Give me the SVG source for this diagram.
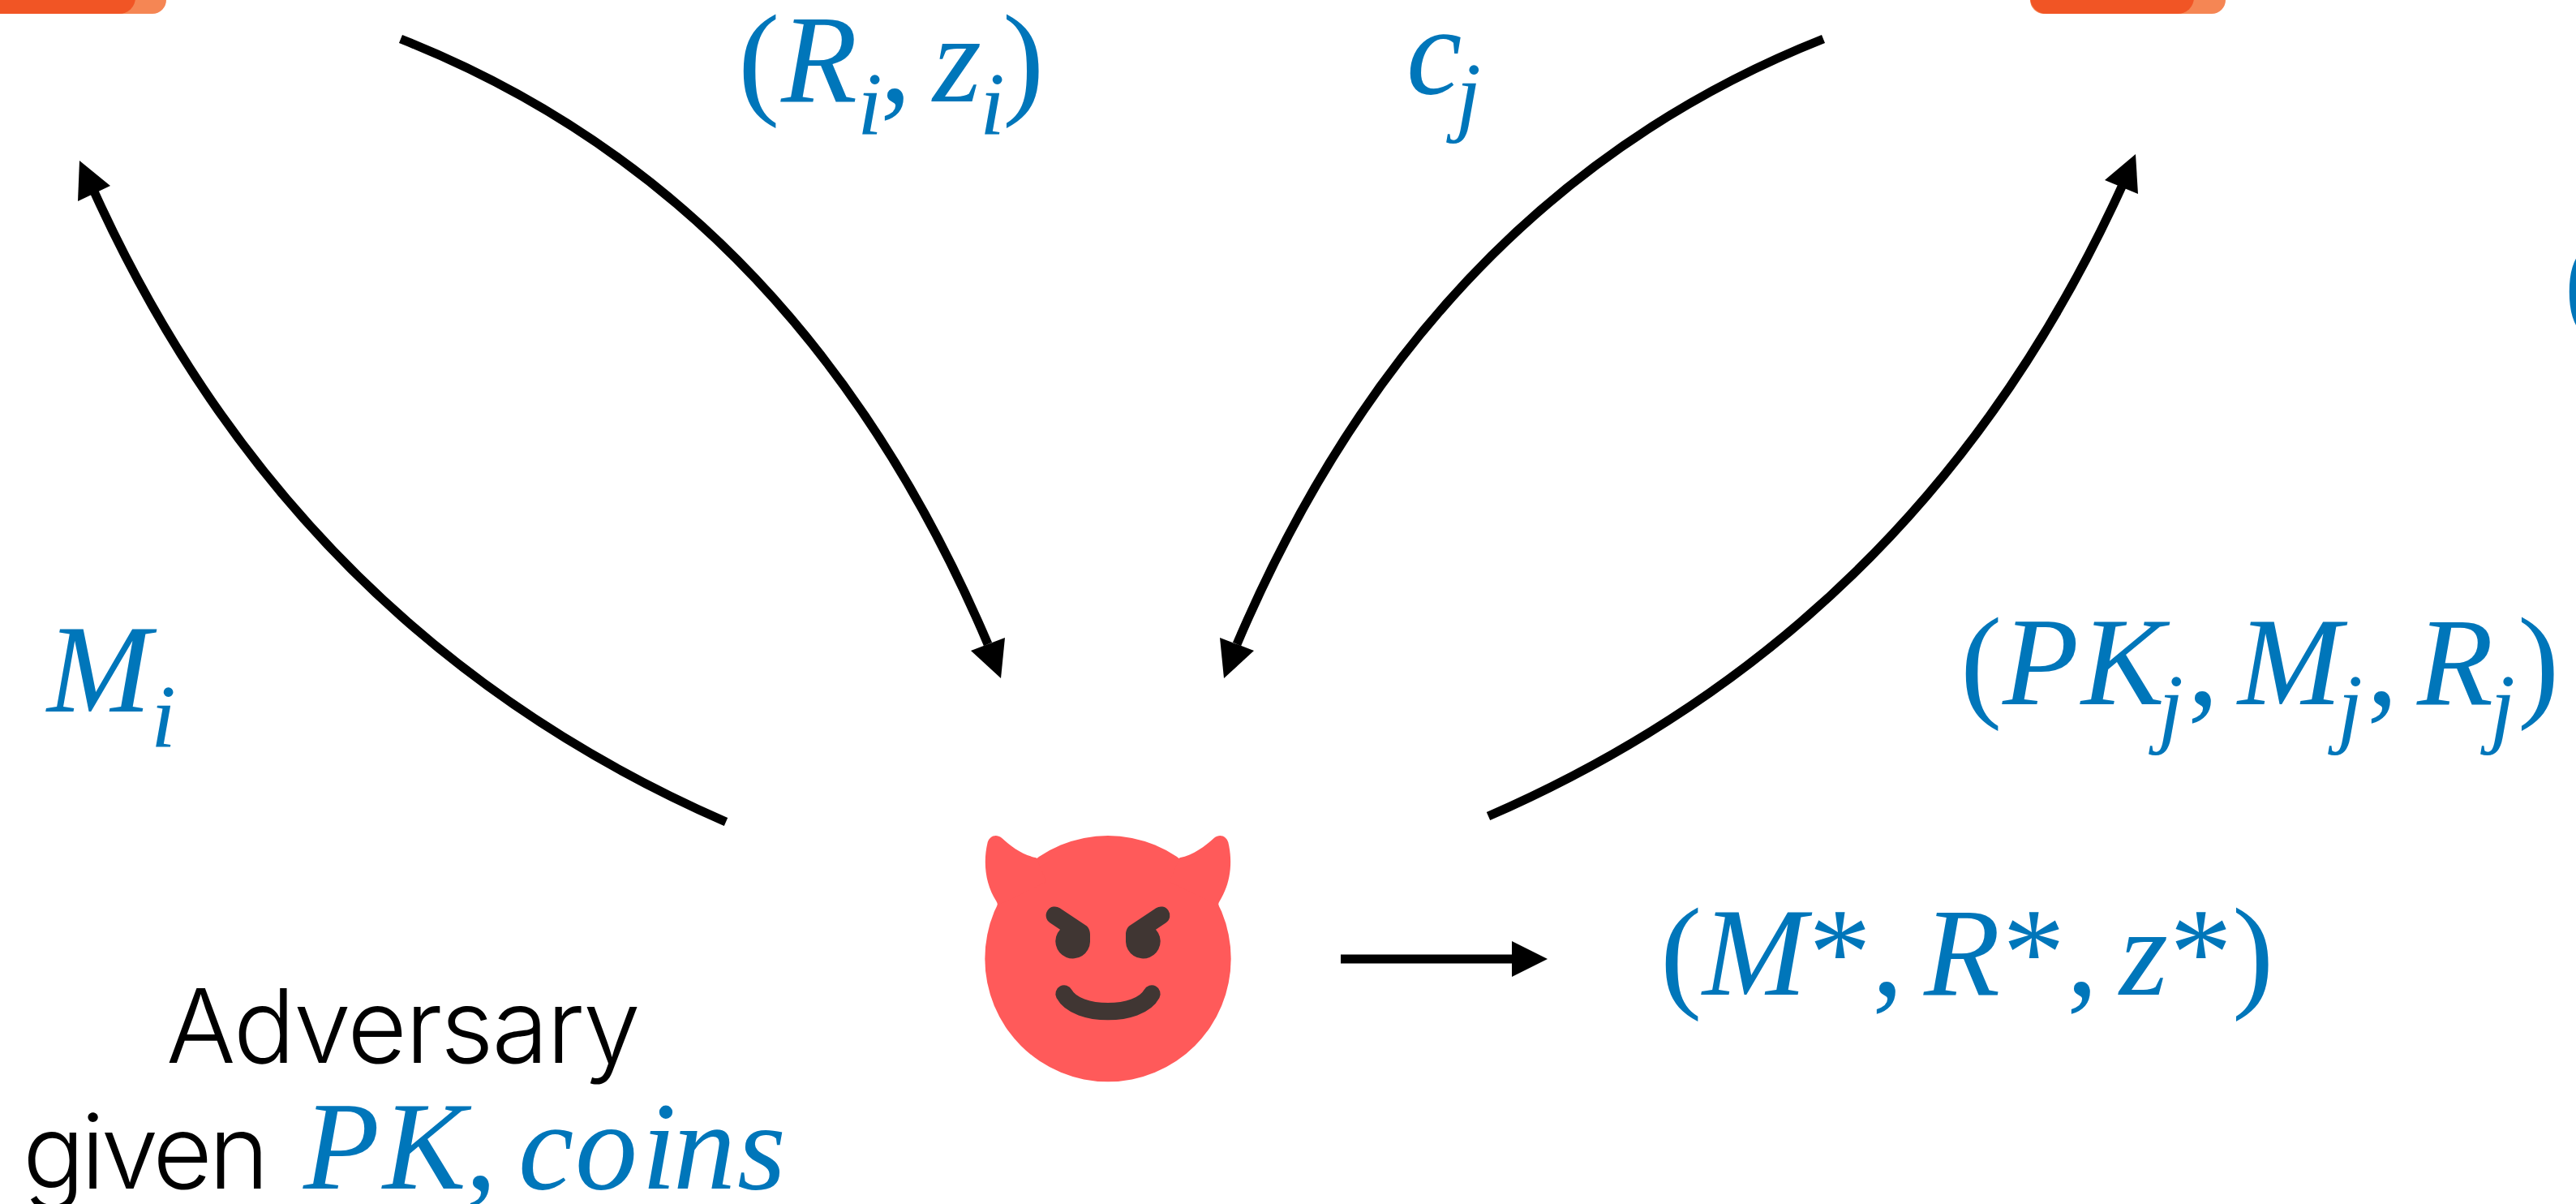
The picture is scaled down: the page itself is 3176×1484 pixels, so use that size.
<svg xmlns="http://www.w3.org/2000/svg" width="3176" height="1484" viewBox="0 0 3176 1484">
<style>
.m{font-family:"Liberation Serif","Times New Roman",serif;font-style:italic;font-size:154px;fill:#0076BA}
.u{font-style:normal}
.s{font-size:111px}
.t{font-family:Inter,"Liberation Sans",sans-serif;font-weight:300;font-size:127px;fill:#000}
.c{fill:none;stroke:#000;stroke-width:11}
.h{fill:#000}
.d{fill:#FF5A5A}
.k{fill:#403633}
</style>
<rect width="3176" height="1484" fill="#fff"/>
<g id="signer-left">
<rect x="-60" y="-40" width="265" height="57" rx="17" fill="#F58654"/>
<rect x="-60" y="-40" width="227" height="57" rx="20" fill="#F15525"/>
</g>
<g id="signer-right">
<rect x="2503" y="-40" width="241" height="57" rx="17" fill="#F58654"/>
<rect x="2503" y="-40" width="202" height="57" rx="20" fill="#F15525"/>
</g>
<g id="connectors">
<path class="c" d="M895 1013Q363 781 116 236"/><polygon class="h" points="98,198 96,248 136,229"/>
<path class="c" d="M494 48Q983 241 1218 794"/><polygon class="h" points="1234,836 1197,802 1239,786"/>
<path class="c" d="M2248 48Q1760 241 1525 794"/><polygon class="h" points="1509,836 1504,786 1546,802"/>
<path class="c" d="M1835 1006Q2368 774 2616 230"/><polygon class="h" points="2633,190 2595,222 2636,239"/>
<path class="c" d="M1653 1182H1866"/><polygon class="h" points="1908,1182 1864,1160 1864,1204"/>
</g>
<g id="adversary">
<g transform="translate(1150 980) scale(.33333)">
<circle class="d" cx="648" cy="605" r="455"/>
<path class="d" d="M383 232C330 220 290 190 255 158C235 142 210 150 203 175C185 250 195 330 235 392C240 400 240 405 238 410L420 320Z"/>
<path class="d" transform="translate(1296 0) scale(-1 1)" d="M383 232C330 220 290 190 255 158C235 142 210 150 203 175C185 250 195 330 235 392C240 400 240 405 238 410L420 320Z"/>
<path class="k" d="M470 418L568 483C578 490 582 505 582 515V542A64 64 0 1 1 471 497L433 472A31 31 0 0 1 470 418Z"/>
<path class="k" transform="translate(1296 0) scale(-1 1)" d="M470 418L568 483C578 490 582 505 582 515V542A64 64 0 1 1 471 497L433 472A31 31 0 0 1 470 418Z"/>
<path class="c" style="stroke:#403633;stroke-width:64;stroke-linecap:round" d="M486 735C510 780 580 800 648 800C716 800 786 780 810 735"/>
</g>
</g>
<g id="labels">
<text class="m u" x="910" y="125">(</text><text class="m" x="963" y="125">R</text><text class="m s" x="1057" y="165">i</text><text class="m u" x="1085" y="125">,</text><text class="m" x="1150" y="125">z</text><text class="m s" x="1208" y="165">i</text><text class="m u" x="1236" y="125">)</text>
<text class="m" x="1734" y="115">c</text><text class="m s" x="1795" y="154">j</text>
<text class="m u" x="3161" y="397">(</text>
<text class="m" x="58" y="877">M</text><text class="m s" x="186" y="920">i</text>
<text class="m u" x="2417" y="868">(</text><text class="m" x="2469" y="868">P</text><text class="m" x="2566" y="868">K</text><text class="m s" x="2661" y="908">j</text><text class="m u" x="2697" y="868">,</text><text class="m" x="2759" y="868">M</text><text class="m s" x="2882" y="908">j</text><text class="m u" x="2918" y="868">,</text><text class="m" x="2980" y="868">R</text><text class="m s" x="3070" y="908">j</text><text class="m u" x="3104" y="868">)</text>
<text class="m u" x="2047" y="1226">(</text><text class="m" x="2099" y="1226">M</text><text class="m u" x="2230" y="1226">*</text><text class="m u" x="2308" y="1226">,</text><text class="m" x="2372" y="1226">R</text><text class="m u" x="2469" y="1226">*</text><text class="m u" x="2548" y="1226">,</text><text class="m" x="2613" y="1226">z</text><text class="m u" x="2675" y="1226">*</text><text class="m u" x="2752" y="1226">)</text>
<text class="t" x="205" y="1310" textLength="585">Adversary</text>
<text class="t" x="28" y="1465" textLength="304">given</text>
<text class="m" x="374" y="1465">P</text><text class="m" x="472" y="1465">K</text><text class="m u" x="574" y="1465">,</text><text class="m" x="639" y="1465">c</text><text class="m" x="709" y="1465">o</text><text class="m" x="791" y="1465">i</text><text class="m" x="830" y="1465">n</text><text class="m" x="909" y="1465">s</text>
</g>
</svg>
